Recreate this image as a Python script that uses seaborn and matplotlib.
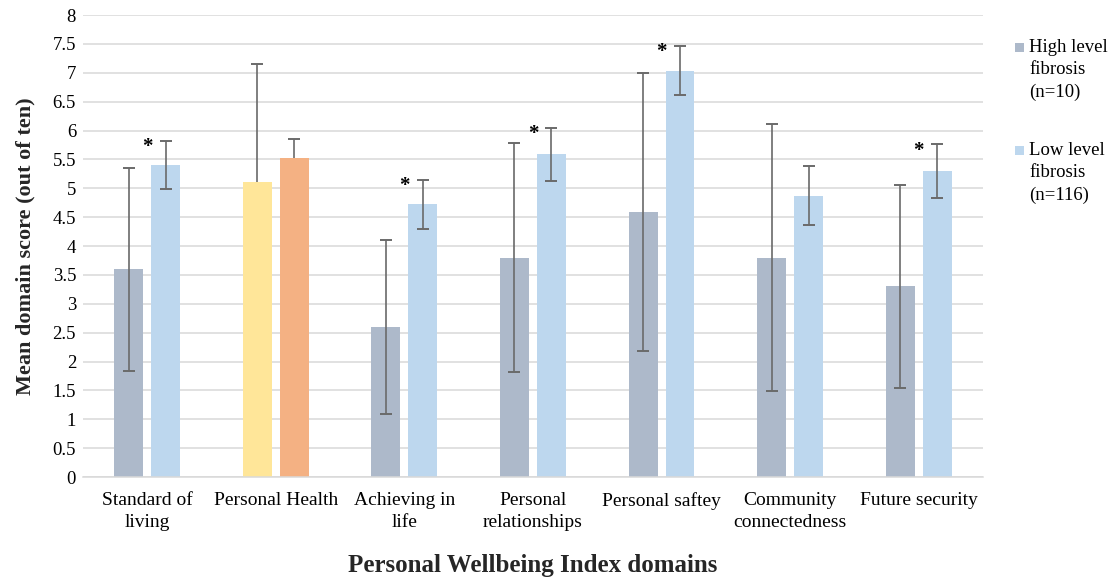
import numpy as np
import pandas as pd
import matplotlib
matplotlib.use("Agg")
import matplotlib.pyplot as plt
from matplotlib.patches import Rectangle
import seaborn as sns

# Personal Wellbeing Index domains
domains = ["Standard of\nliving", "Personal Health", "Achieving in\nlife",
           "Personal\nrelationships", "Personal saftey", "Community\nconnectedness",
           "Future security"]
groups = ["High level\nfibrosis\n(n=10)", "Low level\nfibrosis\n(n=116)"]

# Mean domain scores and error-bar half-widths per group
high_mean = [3.60, 5.11, 2.60, 3.80, 4.59, 3.80, 3.30]
high_err = [1.76, 2.05, 1.51, 1.99, 2.41, 2.31, 1.76]
low_mean = [5.40, 5.52, 4.72, 5.59, 7.04, 4.87, 5.30]
low_err = [0.42, 0.33, 0.43, 0.46, 0.43, 0.51, 0.46]

# Domains with a significant group difference
significant = [True, False, True, True, True, False, True]
# Domains whose error bars are drawn in the plus direction only
plus_only = [False, True, False, False, False, False, False]

y_ticks = np.arange(0, 8.01, 0.5)

group_colors = ["#ADB9CA", "#BDD7EE"]
highlight = {"Personal Health": ["#FFE699", "#F4B183"]}
err_color = "#6A6A6A"
grid_color = "#D9D9D9"

df = pd.DataFrame({
    "domain": domains * 2,
    "group": [groups[0]] * len(domains) + [groups[1]] * len(domains),
    "mean": high_mean + low_mean,
})

sns.set_theme(style="white")
plt.rcParams["font.family"] = ["Liberation Serif", "DejaVu Serif"]

fig = plt.figure(figsize=(11.13, 5.81), dpi=100)
ax = fig.add_axes([0.0746, 0.179, 0.8085, 0.795])

sns.barplot(data=df, x="domain", y="mean", hue="group", order=domains,
            hue_order=groups, palette=group_colors, width=0.575, gap=0.216,
            legend=False, ax=ax, errorbar=None, saturation=1, linewidth=0,
            zorder=2)

bar_groups = [list(c) for c in ax.containers]
means = [high_mean, low_mean]
errs = [high_err, low_err]
for gi, bars in enumerate(bar_groups):
    for j, bar in enumerate(bars):
        name = domains[j]
        if name in highlight:
            bar.set_facecolor(highlight[name][gi])
        x = bar.get_x() + bar.get_width() / 2
        m, e = means[gi][j], errs[gi][j]
        if plus_only[j]:
            ax.vlines(x, m, m + e, color=err_color, lw=1.2, zorder=3)
            ax.plot([x], [m + e], marker="_", ms=8, mew=1.4, color=err_color, zorder=3)
        else:
            ax.errorbar(x, m, yerr=e, fmt="none", ecolor=err_color, elinewidth=1.2,
                        capsize=4, capthick=1.4, zorder=3)

# Significance markers between the two bars of a domain
low_bars = bar_groups[1]
for j, sig in enumerate(significant):
    if sig:
        b = low_bars[j]
        x = b.get_x() - 0.03
        ax.text(x, low_mean[j] + 0.75 * low_err[j], "*", ha="center", va="center",
                fontsize=15, fontweight="bold", color="black", zorder=4)

ax.set_ylim(0, 8)
ax.set_xlim(-0.5, len(domains) - 0.5)
ax.set_yticks(y_ticks)
ax.set_yticklabels([f"{v:g}" for v in y_ticks])
ax.yaxis.grid(True, color=grid_color, lw=1.1, zorder=0)
ax.set_axisbelow(True)
for s in ["top", "right", "left"]:
    ax.spines[s].set_visible(False)
ax.spines["bottom"].set_color(grid_color)
ax.spines["bottom"].set_linewidth(1.1)
ax.tick_params(axis="both", length=0, colors="black")
ax.tick_params(axis="x", labelsize=14, pad=11)
ax.tick_params(axis="y", labelsize=13.5, pad=5)
for lbl in ax.get_xticklabels():
    lbl.set_linespacing(1.35)

ax.set_xlabel("Personal Wellbeing Index domains", fontsize=18, fontweight="bold",
              labelpad=17)
ax.set_ylabel("Mean domain score (out of ten)", fontsize=16, fontweight="bold",
              labelpad=12)

# Legend: colour swatch beside the first line of each multi-line entry
W, H = fig.get_size_inches() * fig.dpi
legend_x, legend_tops = 1015, [39, 142]
for color, label, top in zip(group_colors, groups, legend_tops):
    fig.add_artist(Rectangle(((legend_x) / W, 1 - (top + 13) / H), 9 / W, 9 / H,
                             transform=fig.transFigure, facecolor=color,
                             edgecolor="none"))
    fig.text((legend_x + 14) / W, 1 - top / H, label, ha="left", va="top",
             fontsize=13.5, linespacing=1.42, color="black")

fig.savefig("out.png", dpi=100)
